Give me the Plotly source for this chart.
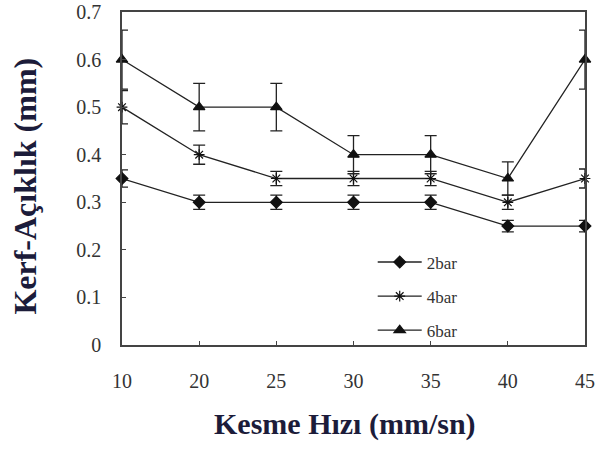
import plotly.graph_objects as go

speeds = ["10", "20", "25", "30", "35", "40", "45"]
bar2 = [0.35, 0.30, 0.30, 0.30, 0.30, 0.25, 0.25]
bar2_err = [0.018, 0.015, 0.015, 0.015, 0.015, 0.012, 0.012]
bar4 = [0.50, 0.40, 0.35, 0.35, 0.35, 0.30, 0.35]
bar4_err = [0.035, 0.02, 0.015, 0.015, 0.015, 0.015, 0.02]
bar6 = [0.60, 0.50, 0.50, 0.40, 0.40, 0.35, 0.60]
bar6_err = [0.062, 0.05, 0.05, 0.04, 0.04, 0.035, 0.062]

serif = "Liberation Serif, Times New Roman, serif"
title_col = "#1c1c3a"

fig = go.Figure()
series = [
    ("2bar", bar2, bar2_err, "diamond", 9),
    ("4bar", bar4, bar4_err, "asterisk-open", 9),
    ("6bar", bar6, bar6_err, "triangle-up", 10),
]
for name, ys, errs, sym, sz in series:
    fig.add_trace(go.Scatter(
        x=speeds, y=ys, name=name, mode="lines+markers",
        legendgroup=name,
        line=dict(color="#222222", width=1.3),
        marker=dict(symbol=sym, size=sz, color="#111111",
                    line=dict(color="#111111", width=1.2)),
        error_y=dict(type="data", array=errs, visible=True,
                     color="#222222", thickness=1.3, width=6),
        cliponaxis=False,
    ))

fig.update_layout(
    width=598, height=450,
    margin=dict(l=122, r=13, t=12, b=105, autoexpand=False),
    paper_bgcolor="white", plot_bgcolor="white",
    font=dict(family=serif, color="#333333", size=18),
    showlegend=True,
    legend=dict(x=0.5415, y=0.302, xanchor="left", yanchor="top",
                bgcolor="rgba(0,0,0,0)", tracegroupgap=9, itemwidth=44,
                font=dict(family=serif, size=17, color="#333333")),
    xaxis=dict(
        type="category", range=[0, 6], automargin=False,
        showline=True, linecolor="#444444", linewidth=1.5, mirror=True,
        ticks="inside", ticklen=4, tickcolor="#444444",
        showgrid=False, zeroline=False,
        ticklabelstandoff=17, ticklabeloverflow="allow",
        tickfont=dict(family=serif, size=20, color="#333333"),
    ),
    yaxis=dict(
        range=[0, 0.7], dtick=0.1, tick0=0, automargin=False,
        showline=True, linecolor="#444444", linewidth=1.5, mirror=True,
        ticks="inside", ticklen=4, tickcolor="#444444",
        showgrid=False, zeroline=False,
        ticklabelstandoff=15, ticklabeloverflow="allow",
        tickfont=dict(family=serif, size=20, color="#333333"),
    ),
    annotations=[
        dict(text="<b>Kesme Hızı (mm/sn)</b>", xref="paper", yref="paper",
             x=0.482, y=-0.237, xanchor="center", yanchor="middle",
             showarrow=False,
             font=dict(family=serif, size=30, color=title_col)),
        dict(text="<b>Kerf-Açıklık (mm)</b>", xref="paper", yref="paper",
             x=-0.21, y=0.478, xanchor="center", yanchor="middle",
             textangle=-90, showarrow=False,
             font=dict(family=serif, size=32, color=title_col)),
    ],
)

fig.write_html(
    "out.html",
    config={"displayModeBar": False},
    post_script="document.body.style.margin='0';document.body.style.overflow='hidden';",
)
